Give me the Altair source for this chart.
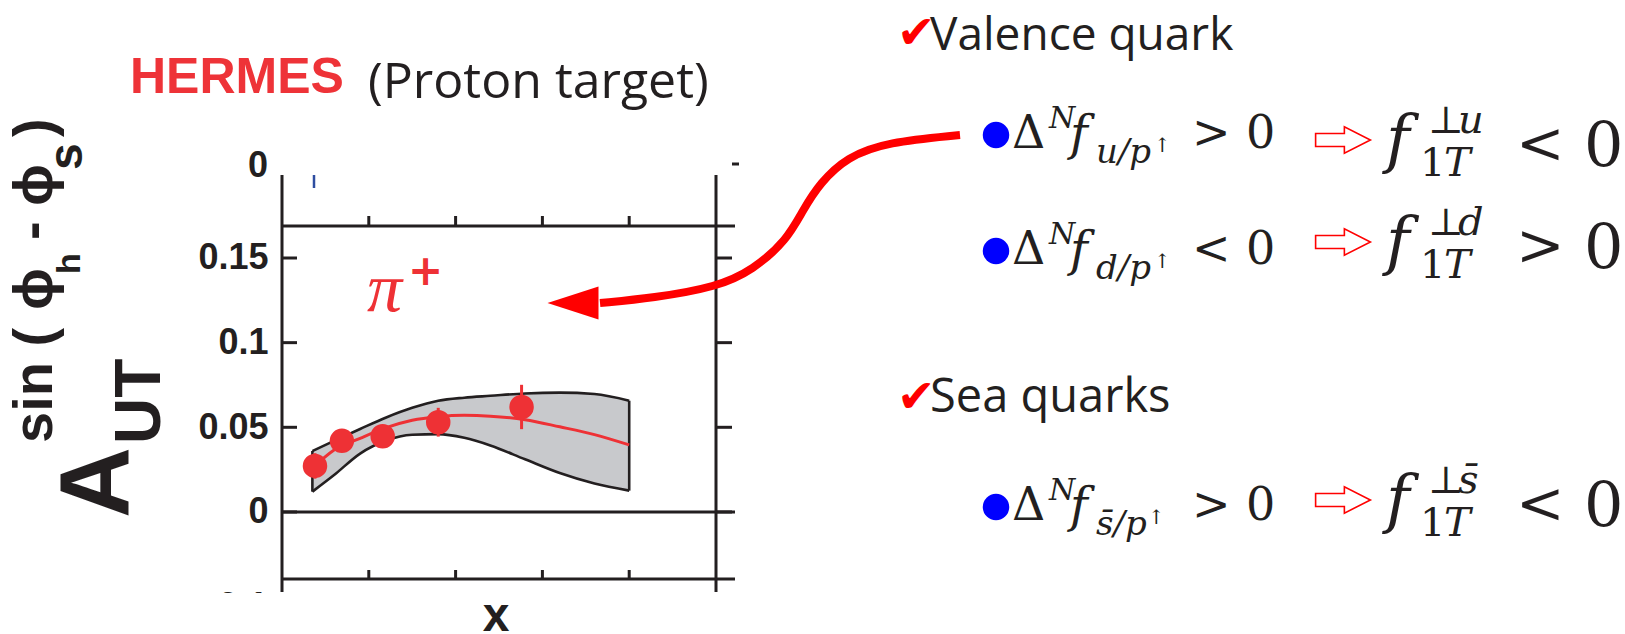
import altair as alt
import pandas as pd

# ---------------- data ----------------
x_pts = [0.038, 0.069, 0.116, 0.180, 0.276]
y_pts = [0.0272, 0.0420, 0.0447, 0.0530, 0.0620]
y_err = [0.0075, 0.005, 0.005, 0.0085, 0.0131]

band_x = [0.035, 0.06, 0.09, 0.12, 0.15, 0.18, 0.21, 0.24, 0.28, 0.32, 0.36, 0.40]
band_hi = [0.0360, 0.0420, 0.0490, 0.0558, 0.0615, 0.0657, 0.0675, 0.0686, 0.0700, 0.0705, 0.0697, 0.0657]
band_lo = [0.0120, 0.0218, 0.0345, 0.0422, 0.0456, 0.0460, 0.0438, 0.0393, 0.0311, 0.0230, 0.0168, 0.0126]
fit_y = [0.0258, 0.0366, 0.0435, 0.0498, 0.0542, 0.0563, 0.0571, 0.0566, 0.0545, 0.0503, 0.0457, 0.0396]

y_ticks = [0, 0.05, 0.1, 0.15]
x_ticks = [0.1, 0.2, 0.3, 0.4]

# arrow annotation path (page pixels)
arrow_px = [600, 653, 717, 753, 787, 803, 820, 847, 887, 960]
arrow_py = [303, 298, 287, 270, 240, 210, 183, 157, 142, 135]

# ---------------- layout ----------------
OX, OY = 282, 226
W, H = 434, 353
INK = "#231F20"
RED = "#EE3135"
FILL = "#C8C9CC"

xs = alt.Scale(domain=[0, 0.5], nice=False, zero=False)
ys = alt.Scale(domain=[-0.0396, 0.1689], nice=False, zero=False)
Y_AX = alt.Axis(values=y_ticks, format="~g", ticks=False, tickSize=0, domain=False, grid=False,
                labelPadding=14, labelFont="Liberation Sans", labelFontWeight="bold",
                labelFontSize=36, labelColor=INK, title=None)

band = pd.DataFrame({"x": band_x, "lo": band_lo, "hi": band_hi, "fit": fit_y})
ends = band.iloc[[0, len(band) - 1]]
pts = pd.DataFrame({"x": x_pts, "y": y_pts,
                    "lo": [a - b for a, b in zip(y_pts, y_err)],
                    "hi": [a + b for a, b in zip(y_pts, y_err)]})
yt = pd.DataFrame({"y": y_ticks})
xt = pd.DataFrame({"x": x_ticks})
one = pd.DataFrame({"k": [0]})
arrow = pd.DataFrame({"px": [p - OX for p in arrow_px], "py": [p - OY for p in arrow_py]})

X = lambda f: alt.X(f, type="quantitative", scale=xs, axis=None)
Y = lambda f: alt.Y(f, type="quantitative", scale=ys, axis=Y_AX)

layers = []
layers.append(alt.Chart(band).mark_area(color=FILL, interpolate="monotone", opacity=1)
              .encode(x=X("x"), y=Y("lo"), y2="hi"))
for col in ["hi", "lo"]:
    layers.append(alt.Chart(band).mark_line(color=INK, strokeWidth=2.6, interpolate="monotone")
                  .encode(x=X("x"), y=Y(col)))
layers.append(alt.Chart(ends).mark_rule(color=INK, strokeWidth=2.6).encode(x=X("x"), y=Y("lo"), y2="hi"))
layers.append(alt.Chart(band).mark_line(color=RED, strokeWidth=3, interpolate="monotone")
              .encode(x=X("x"), y=Y("fit")))
layers.append(alt.Chart(pts).mark_rule(color=RED, strokeWidth=3).encode(x=X("x"), y=Y("lo"), y2="hi"))
layers.append(alt.Chart(pts).mark_circle(color=RED, size=600, opacity=1).encode(x=X("x"), y=Y("y")))


def R(x1, y1, x2, y2, sw=3, color=INK):
    return alt.Chart(one).mark_rule(color=color, strokeWidth=sw).encode(
        x=alt.value(x1 - OX), y=alt.value(y1 - OY), x2=alt.value(x2 - OX), y2=alt.value(y2 - OY))


layers.append(alt.Chart(one).mark_rule(color=INK, strokeWidth=3).encode(
    y=alt.Y(datum=0, scale=ys, axis=Y_AX), x=alt.value(0), x2=alt.value(735 - OX)))
layers += [
    R(282, 226, 735, 226), R(282, 579, 735, 579),
    R(282, 175, 282, 592), R(716, 175, 716, 592),
    R(732, 164, 739, 164, sw=3),
    R(314, 175, 314, 188, sw=2.5, color="#2E4DA0"),
]
layers.append(alt.Chart(yt).mark_rule(color=INK, strokeWidth=3).encode(
    y=Y("y"), x=alt.value(0), x2=alt.value(15)))
layers.append(alt.Chart(yt).mark_rule(color=INK, strokeWidth=3).encode(
    y=Y("y"), x=alt.value(W), x2=alt.value(W + 16)))
layers.append(alt.Chart(xt).mark_rule(color=INK, strokeWidth=3).encode(
    x=X("x"), y=alt.value(-10), y2=alt.value(0)))
layers.append(alt.Chart(xt).mark_rule(color=INK, strokeWidth=3).encode(
    x=X("x"), y=alt.value(H - 9), y2=alt.value(H)))


def T(text, x, y, size, color=INK, font="Liberation Sans", weight="normal", style="normal",
      angle=0, align="left", baseline="alphabetic"):
    kw = dict(text=text, x=x - OX, y=y - OY, fontSize=size, color=color, font=font,
              fontWeight=weight, fontStyle=style, align=align, baseline=baseline)
    if angle:
        kw["angle"] = angle
    return alt.Chart(one).mark_text(**kw).encode(opacity=alt.value(1))


def S(x, y, shape, size, fill, stroke=None, sw=0):
    kw = dict(shape=shape, size=size, filled=True, fill=fill, fillOpacity=1, x=x - OX, y=y - OY)
    if stroke:
        kw.update(stroke=stroke, strokeWidth=sw, strokeOpacity=1)
    return alt.Chart(one).mark_point(**kw).encode(opacity=alt.value(1))


# lower panel label fragment, covered
layers.append(T("0.1", 268, 607, 36, weight="bold", align="right", baseline="middle"))
layers.append(alt.Chart(one).mark_rect(color="white", opacity=1).encode(
    x=alt.value(150 - OX), x2=alt.value(760 - OX), y=alt.value(593 - OY), y2=alt.value(634 - OY)))
layers.append(T("0", 268, 166, 36, weight="bold", align="right", baseline="middle"))
layers.append(T("x", 496, 631, 48, weight="bold", align="center"))

# titles
layers.append(T("HERMES", 130, 93, 50, color="#EE3338", weight="bold"))
layers.append(T("(Proton target)", 368, 98, 50, font="Open Sans"))
layers.append(T("π", 367, 311, 70, color=RED, font="Liberation Serif", style="italic"))
layers.append(T("+", 408, 285, 42, color=RED, font="DejaVu Sans", weight="bold"))

# y-axis title (rotated pieces)
B = "bold"
layers += [
    T("A", 128, 518, 98, weight=B, angle=270),
    T("UT", 160, 444, 64, weight=B, angle=270),
    T("sin (", 52, 443, 56, weight=B, angle=270),
    T("ϕ", 52, 310, 56, weight=B, angle=270),
    T("h", 80, 274, 34, weight=B, angle=270),
    T("-", 50, 240, 56, weight=B, angle=270),
    T("ϕ", 52, 206, 56, weight=B, angle=270),
    T("s", 82, 170, 48, weight=B, angle=270),
    T(")", 52, 137, 56, weight=B, angle=270),
]

# curved arrow
layers.append(alt.Chart(arrow).mark_line(color="#FF0000", strokeWidth=8, interpolate="basis")
              .encode(x=alt.X("px", type="quantitative", scale=None),
                      y=alt.Y("py", type="quantitative", scale=None)))
layers.append(S(573, 303, "M -1 0 L 1 -0.65 L 1 0.65 Z", 2601, "#FF0000"))

# right-hand text
CHK = "#FF0000"
layers.append(T("✔", 897, 48, 46, color=CHK, font="DejaVu Sans"))
layers.append(T("Valence quark", 930, 50, 46, font="Open Sans"))
layers.append(T("✔", 897, 412, 46, color=CHK, font="DejaVu Sans"))
layers.append(T("Sea quarks", 930, 412, 47, font="Open Sans"))

SERIF = "DejaVu Serif"
BLUE = "#0000FF"
BLOCK = "M -1 -0.24 L 0.05 -0.24 L 0.05 -0.48 L 1 0 L 0.05 0.48 L 0.05 0.24 L -1 0.24 Z"


def row(dl, dr, sub, rel, sup, rel2, up_x):
    return [
        S(996, 135 + dl, "circle", 700, BLUE),
        T("Δ", 1012, 148 + dl, 46, font=SERIF),
        T("N", 1049, 128 + dl, 30, font=SERIF, style="italic"),
        T("f", 1070, 150 + dl, 48, font=SERIF, style="italic"),
        T(sub, 1096, 163 + dl, 34, font=SERIF, style="italic"),
        T("↑", up_x, 152 + dl, 20, font=SERIF),
        T(rel, 1192, 148 + dl, 46, font=SERIF),
        T("0", 1246, 148 + dl, 46, font=SERIF),
        S(1343, 140 + dr, BLOCK, 3000, "white", stroke="#FF0000", sw=1.6),
        T("f", 1386, 161 + dr, 64, font=SERIF, style="italic"),
        T("⊥", 1428, 133 + dr, 38, font=SERIF),
        T(sup, 1458, 133 + dr, 40, font=SERIF, style="italic"),
        T("1", 1420, 176 + dr, 40, font=SERIF),
        T("T", 1444, 176 + dr, 40, font=SERIF, style="italic"),
        T(rel2, 1516, 163 + dr, 58, font=SERIF),
        T("0", 1584, 166 + dr, 62, font=SERIF),
    ]


layers += row(0, 0, "u/p", ">", "u", "<", 1154)
layers += row(116, 102, "d/p", "<", "d", ">", 1154)
layers += row(372, 360, "s̄/p", ">", "s̄", "<", 1148)

chart = alt.layer(*layers).properties(
    width=W, height=H,
    autosize=alt.AutoSizeParams(type="none"),
    padding={"left": OX, "top": OY, "right": 1625 - OX - W, "bottom": 634 - OY - H},
    background="white",
).configure_view(stroke=None)

chart.save("out.html", embed_options={"renderer": "svg", "actions": False})
